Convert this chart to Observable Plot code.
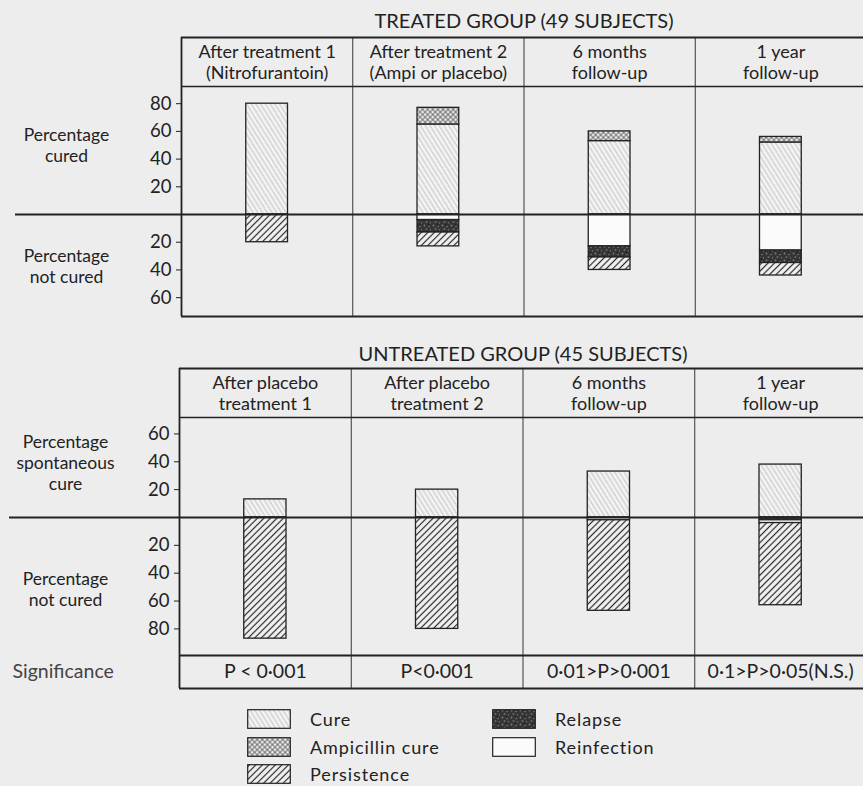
<!DOCTYPE html>
<html><head><meta charset="utf-8">
<script src="https://cdn.jsdelivr.net/npm/d3@7"></script>
<script src="https://cdn.jsdelivr.net/npm/@observablehq/plot@0.6"></script>
<style>
body{margin:0;background:#ededed;font-family:Lato,"Open Sans",sans-serif;color:#222}
#wrap{position:relative;width:863px;height:786px;overflow:hidden}
#top,#bottom{position:absolute;left:0}
#top{top:0}#bottom{top:330px}
.leg{position:absolute;font-size:18px;letter-spacing:0.9px;display:flex;align-items:center;height:20px;white-space:nowrap}
.leg svg{margin-right:19px;flex:none}
</style></head>
<body>
<svg width="0" height="0" style="position:absolute">
<defs>
<pattern id="p-cure" width="4" height="4" patternUnits="userSpaceOnUse" patternTransform="rotate(-32)">
<rect width="4" height="4" fill="#f5f5f5"/>
<line x1="2" y1="0" x2="2" y2="4" stroke="#8e8e8e" stroke-width="0.8" stroke-dasharray="1.4 0.6"/>
</pattern>
<pattern id="p-amp" width="3.6" height="3.6" patternUnits="userSpaceOnUse" patternTransform="rotate(45)">
<rect width="3.6" height="3.6" fill="#eeeeee"/>
<line x1="1.8" y1="0" x2="1.8" y2="3.6" stroke="#4a4a4a" stroke-width="0.75"/>
<line x1="0" y1="1.8" x2="3.6" y2="1.8" stroke="#4a4a4a" stroke-width="0.75"/>
</pattern>
<pattern id="p-pers" width="4.6" height="4.6" patternUnits="userSpaceOnUse" patternTransform="rotate(45)">
<rect width="4.6" height="4.6" fill="#f3f3f3"/>
<line x1="2.3" y1="0" x2="2.3" y2="4.6" stroke="#262626" stroke-width="1.2"/>
</pattern>
<pattern id="p-rel" width="9" height="7" patternUnits="userSpaceOnUse">
<rect width="9" height="7" fill="#353535"/>
<circle cx="1.5" cy="1.5" r="0.9" fill="#7a7a7a"/>
<circle cx="6" cy="2.5" r="0.7" fill="#8a8a8a"/>
<circle cx="3.5" cy="5" r="1" fill="#6a6a6a"/>
<circle cx="7.5" cy="5.8" r="0.6" fill="#909090"/>
<rect x="4.5" y="0.2" width="1.5" height="1" fill="#1e1e1e"/>
</pattern>
</defs>
</svg>
<div id="wrap"><div id="top"></div><div id="bottom"></div><div id="legend"></div></div>
<script>
// ---- data ----
const categories = ["Cure", "Ampicillin cure", "Persistence", "Relapse", "Reinfection"];

const treatedTitle = "TREATED GROUP (49 SUBJECTS)";
const treatedColumns = ["After treatment 1\n(Nitrofurantoin)", "After treatment 2\n(Ampi or placebo)", "6 months\nfollow-up", "1 year\nfollow-up"];
const treatedCure = [80, 65, 53, 52];
const treatedAmpicillin = [0, 12, 7, 4];
const treatedReinfection = [0, 4, 23, 26];
const treatedRelapse = [0, 9, 8, 9];
const treatedPersistence = [20, 10, 9, 9];
const treatedTicks = [80, 60, 40, 20, -20, -40, -60];

const untreatedTitle = "UNTREATED GROUP (45 SUBJECTS)";
const untreatedColumns = ["After placebo\ntreatment 1", "After placebo\ntreatment 2", "6 months\nfollow-up", "1 year\nfollow-up"];
const untreatedCure = [13, 20, 33, 38];
const untreatedRelapse = [0, 0, 0, 2];
const untreatedReinfection = [0, 0, 2, 2];
const untreatedPersistence = [87, 80, 65, 59];
const untreatedTicks = [60, 40, 20, -20, -40, -60, -80];

const significance = ["P < 0·001", "P<0·001", "0·01>P>0·001", "0·1>P>0·05(N.S.)"];

const fills = {
  "Cure": "url(#p-cure)",
  "Ampicillin cure": "url(#p-amp)",
  "Persistence": "url(#p-pers)",
  "Relapse": "url(#p-rel)",
  "Reinfection": "#fbfbfb"
};

function buildRows(above, below) {
  const rows = [];
  for (let i = 0; i < 4; i++) {
    let top = 0;
    for (const [cat, vals] of above) {
      if (vals[i] > 0) { rows.push({i, cat, y1: top, y2: top + vals[i]}); top += vals[i]; }
    }
    let bot = 0;
    for (const [cat, vals] of below) {
      if (vals[i] > 0) { rows.push({i, cat, y1: bot, y2: bot - vals[i]}); bot -= vals[i]; }
    }
  }
  return rows;
}

const treatedRows = buildRows(
  [["Cure", treatedCure], ["Ampicillin cure", treatedAmpicillin]],
  [["Reinfection", treatedReinfection], ["Relapse", treatedRelapse], ["Persistence", treatedPersistence]]
);
const untreatedRows = buildRows(
  [["Cure", untreatedCure]],
  [["Relapse", untreatedRelapse], ["Reinfection", untreatedReinfection], ["Persistence", untreatedPersistence]]
);

const ink = "#222";

function panel(o) {
  const [yMin, yMax] = o.domain;
  const headerH = o.headerH;
  const marks = [
    Plot.rect(o.rows, {x1: "i", x2: d => d.i + 1, y1: "y1", y2: "y2", fill: d => fills[d.cat],
      stroke: ink, strokeWidth: 1.3, insetLeft: 64.75, insetRight: 64.75}),
    // column dividers & left border
    Plot.ruleX([1, 2, 3], {stroke: ink, strokeWidth: 0.9, insetTop: -headerH, insetBottom: -o.sigH}),
    Plot.ruleX([0], {stroke: ink, strokeWidth: 1.8, insetTop: -headerH, insetBottom: -o.sigH}),
    // top border, header bottom, plot bottom
    Plot.ruleY([yMax], {stroke: ink, strokeWidth: 2, dy: -headerH}),
    Plot.ruleY([yMax], {stroke: ink, strokeWidth: 1.4}),
    Plot.ruleY([yMin], {stroke: ink, strokeWidth: 1.8}),
    // zero line
    Plot.ruleY([0], {stroke: ink, strokeWidth: 2, insetLeft: -o.zeroExt}),
    // title
    Plot.text([o.title], {frameAnchor: "top", dy: o.titleDy, lineAnchor: "middle", fontSize: 20, fill: ink}),
    // headers
    Plot.text(o.columns, {x: (d, i) => i + 0.5, text: d => d, frameAnchor: "top", dy: -headerH / 2,
      lineAnchor: "middle", lineHeight: 1.12, fontSize: 18, fill: ink}),
    // side labels
    ...o.side.map(s => Plot.text([s.text], {frameAnchor: "left", y: s.y, dx: o.sideDx, textAnchor: "middle",
      lineAnchor: "middle", lineHeight: 1.2, fontSize: 17.5, fill: ink}))
  ];
  if (o.sig) {
    marks.push(Plot.ruleY([yMin], {stroke: ink, strokeWidth: 2, dy: o.sigH}));
    marks.push(Plot.text(o.sig, {x: (d, i) => i + 0.5, text: d => d, frameAnchor: "bottom", dy: o.sigH / 2,
      lineAnchor: "middle", fontSize: 19.5, fill: ink}));
    marks.push(Plot.text(["Significance"], {frameAnchor: "bottom-left", dx: o.sigDx, dy: o.sigH / 2,
      lineAnchor: "middle", textAnchor: "start", fontSize: 19.5, fill: "#444"}));
  }
  return Plot.plot({
    width: 863, height: o.height, marginTop: o.marginTop, marginBottom: o.marginBottom,
    marginLeft: o.marginLeft, marginRight: -3,
    x: {domain: [0, 4], axis: null},
    y: {domain: o.domain, ticks: o.ticks, tickFormat: d => Math.abs(d), tickSize: 5, tickPadding: 5, label: null},
    color: {type: "identity"},
    style: {background: "transparent", color: ink, fontFamily: "Lato, 'Open Sans', sans-serif", fontSize: "18.5px"},
    marks
  });
}

document.getElementById("top").appendChild(panel({
  title: treatedTitle, columns: treatedColumns, rows: treatedRows, ticks: treatedTicks,
  domain: [-73.6, 92.4], height: 330, marginTop: 86, marginBottom: 14, marginLeft: 181,
  headerH: 49, sigH: 0, titleDy: -65, zeroExt: 166, sideDx: -115,
  side: [{text: "Percentage\ncured", y: 50}, {text: "Percentage\nnot cured", y: -37}]
}));

document.getElementById("bottom").appendChild(panel({
  title: untreatedTitle, columns: untreatedColumns, rows: untreatedRows, ticks: untreatedTicks,
  domain: [-99.1, 71.8], height: 362, marginTop: 87, marginBottom: 37, marginLeft: 179,
  headerH: 49, sigH: 33, titleDy: -63, zeroExt: 170, sideDx: -114, sigDx: -167,
  side: [{text: "Percentage\nspontaneous\ncure", y: 40}, {text: "Percentage\nnot cured", y: -51}],
  sig: significance
}));

// legend
const legendPlace = {
  "Cure": [247, 709], "Ampicillin cure": [247, 737], "Persistence": [247, 764],
  "Relapse": [492, 709], "Reinfection": [492, 737]
};
const legend = document.getElementById("legend");
for (const cat of categories) {
  const [lx, ly] = legendPlace[cat];
  const div = document.createElement("div");
  div.className = "leg";
  div.style.left = lx + "px";
  div.style.top = ly + "px";
  div.innerHTML = `<svg width="44" height="20"><rect x="0.7" y="0.7" width="42.6" height="18.6" fill="${fills[cat]}" stroke="${ink}" stroke-width="1.2"/></svg><span>${cat}</span>`;
  legend.appendChild(div);
}
</script>
</body></html>
